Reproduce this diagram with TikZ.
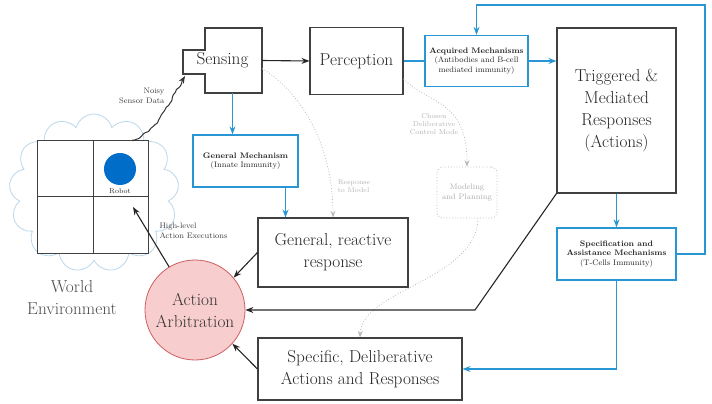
\documentclass[tikz,border=0pt]{standalone}
\usepackage{tikz}
\usetikzlibrary{
    positioning,
    arrows.meta,
    calc,
    shapes.symbols,
    decorations.pathmorphing
}
\definecolor{immuneBlue}{RGB}{40, 150, 210}
\definecolor{robotBlue}{RGB}{0, 110, 200}
\definecolor{arbRed}{RGB}{205, 95, 95}
\definecolor{arbFill}{RGB}{248, 205, 205}
\definecolor{cloudBlue}{RGB}{185, 215, 235}

\begin{document}
\begin{tikzpicture}[x=1pt, y=-1pt, >=Stealth,
        block/.style={draw, line width=1.1pt, black!75, text=black!85, align=center, font=\LARGE, inner sep=2pt},
        mech/.style={draw, line width=1.4pt, immuneBlue, text=black!85, align=center, font=\footnotesize, inner sep=2pt},
        blueline/.style={->, line width=1.1pt, immuneBlue},
        blackline/.style={->, line width=1.1pt, black!85},
        modelline/.style={->, thick, dotted, gray!55},
        smalltext/.style={font=\footnotesize, align=left, text=black!75}]
    \useasboundingbox (0,0) rectangle (712,404);
    \pgfmathsetseed{7}

    % world and robot
    \node[cloud, draw=cloudBlue, thick, cloud puffs=13, aspect=1.1, minimum width=170, minimum height=158] (world) at (94,193) {};
    \fill[white] (37,140) rectangle (148,253);
    \draw[black!75] (37,140) rectangle (148,253) (93,140) -- (93,253) (37,196) -- (148,196);
    \node[circle, fill=robotBlue, minimum size=32, inner sep=0] (robot) at (120,169) {};
    \node[font=\scriptsize, text=black!85, inner sep=1pt] (robotlbl) at (120,191) {Robot};
    \node[font=\LARGE, align=center, text=black!70] (worldlbl) at (72,298) {World\\Environment};
    \coordinate (rbtop) at (133,141);
    \coordinate (rbcell) at (133,207);

    % sensing
    \draw[line width=1.1pt, black!75] (205,28) -- (262,28) -- (262,93) -- (205,93) -- (205,74)
        -- (183,74) -- (183,50) -- (205,50) -- cycle;
    \node[font=\LARGE, text=black!85, minimum width=79, minimum height=65] (sense) at (222.5,60.5) {Sensing};
    \coordinate (tabc) at (185,76);

    % boxes
    \node[block, minimum width=93, minimum height=67] (perc) at (356.5,61) {Perception};
    \node[mech, minimum width=103, minimum height=51] (acq) at (476.5,61)
        {\textbf{Acquired Mechanisms}\\(Antibodies and B-cell\\mediated immunity)};
    \node[block, minimum width=119, minimum height=165] (trig) at (616.5,110.5)
        {Triggered \&\\Mediated\\Responses\\(Actions)};
    \node[mech, minimum width=105, minimum height=52] (gmech) at (245.5,161)
        {\textbf{General Mechanism}\\(Innate Immunity)};
    \node[block, minimum width=150, minimum height=69] (react) at (333,252.5) {General, reactive\\response};
    \node[draw, thick, dotted, gray!55, rounded corners=6pt, align=center, font=\footnotesize, text=gray!65,
        minimum width=60, minimum height=51] (model) at (467,192.5) {Modeling\\and Planning};
    \node[mech, minimum width=119, minimum height=52] (specm) at (616.5,254)
        {\textbf{Specification and}\\\textbf{Assistance Mechanisms}\\(T-Cells Immunity)};
    \node[block, minimum width=204, minimum height=62] (delib) at (360,369)
        {Specific, Deliberative\\Actions and Responses};
    \node[circle, draw=arbRed, thick, fill=arbFill, minimum size=100, align=center, font=\LARGE, text=black!80]
        (arb) at (195,310) {Action\\Arbitration};

    % sensing path
    \draw[->, line width=1pt, black!80, rounded corners=1pt, decorate,
        decoration={random steps, segment length=3pt, amplitude=1.2pt, post length=6pt}]
        (rbtop) .. controls (160,128) and (166,108) .. (tabc);
    \node[smalltext, align=right, anchor=east] (noisylbl) at (168,96) {Noisy\\Sensor Data};
    \draw[blackline] (sense.east) -- (perc.west);
    \draw[line width=1.1pt, immuneBlue] (perc.east) -- (acq.west);
    \draw[blueline] (acq.east) -- (trig.west |- acq.east);
    \draw[blueline] ($(sense.south)+(10,0)$) coordinate (s1) -- (s1 |- gmech.north);
    \draw[blueline] ($(gmech.south)+(40,0)$) coordinate (g1) -- (g1 |- react.north);

    % immune feedback loop
    \coordinate (loopc) at (705,5);
    \draw[blueline] (specm.east) -| (loopc) -| (acq.north);
    \draw[blueline] (trig.south) -- (specm.north);
    \draw[blueline] (specm.south) |- (delib.east);

    % model paths
    \draw[modelline] ($(sense.east)+(0,8)$) .. controls (305,95) and (333,150) .. (react.north);
    \node[smalltext, text=gray!60, font=\scriptsize] (resplbl) at (354,186) {Response\\to Model};
    \draw[modelline] ($(perc.east)+(0,18)$) .. controls (430,105) and (467,100) .. (model.north);
    \node[smalltext, align=center, text=gray!60, font=\scriptsize] (modelbl) at (434,124) {Chosen\\Deliberative\\Control Mode};
    \draw[modelline] ($(model.south)+(11,0)$) .. controls (476,280) and (362,290) .. (delib.north);

    % to arbitration
    \coordinate (bend) at (475,310);
    \draw[blackline] (trig.south west) -- (bend) -- (arb.east);
    \draw[blackline] (react.west) -- (arb.40);
    \draw[blackline] (delib.west) -- (arb.-42);
    \draw[blackline] (arb.121) -- (rbcell);
    \node[smalltext, anchor=west] (execlbl) at (156,231) {High-level\\Action Executions};
\end{tikzpicture}
\end{document}
